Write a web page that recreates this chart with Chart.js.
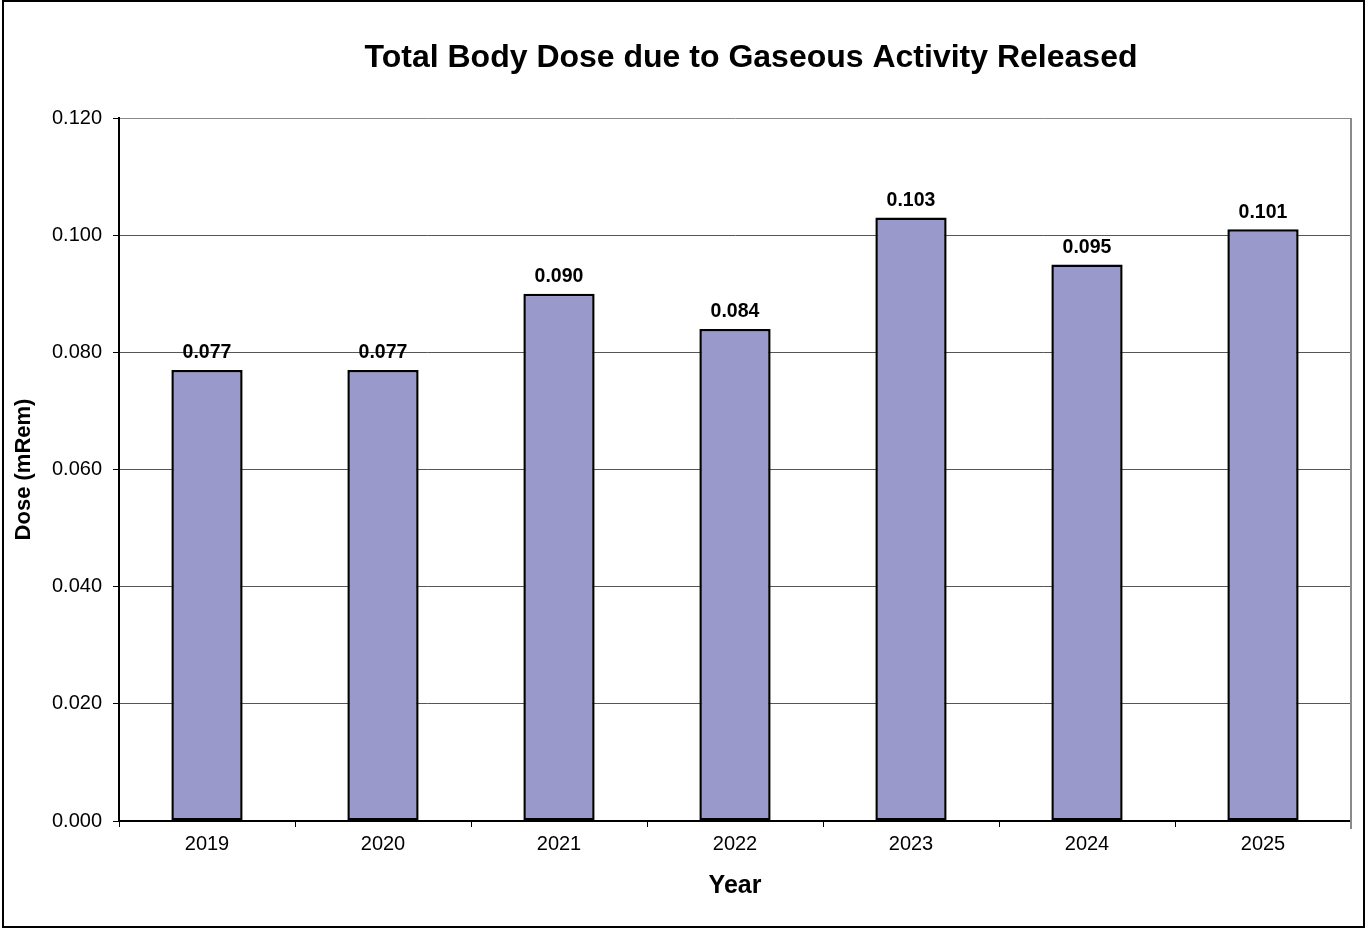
<!DOCTYPE html>
<html>
<head>
<meta charset="utf-8">
<script src="https://cdn.jsdelivr.net/npm/chart.js@4/dist/chart.umd.min.js"></script>
<style>
  html, body { margin: 0; padding: 0; background: #fff; }
  #wrap { width: 1367px; height: 929px; position: relative; }
</style>
</head>
<body>
<div id="wrap"><canvas id="graficoDose"></canvas></div>
<script>
const anos = ['2019', '2020', '2021', '2022', '2023', '2024', '2025'];
const doses = [0.077, 0.077, 0.090, 0.084, 0.103, 0.095, 0.101];
const ticksDose = [0, 0.02, 0.04, 0.06, 0.08, 0.1, 0.12];

const FONTE = '"Liberation Sans", Arial, sans-serif';

// titulo, moldura externa, borda direita da area e rotulos das barras
const extras = {
  id: 'extras',
  afterDraw(chart) {
    const { ctx, chartArea } = chart;
    ctx.save();

    ctx.strokeStyle = '#000';
    ctx.lineWidth = 2;
    ctx.strokeRect(3, 1, 1361, 926);

    ctx.strokeStyle = '#8a8a8a';
    ctx.lineWidth = 2;
    ctx.beginPath();
    ctx.moveTo(chartArea.right, chartArea.top);
    ctx.lineTo(chartArea.right, chartArea.bottom + 8);
    ctx.stroke();

    ctx.fillStyle = '#000';
    ctx.textAlign = 'center';
    ctx.textBaseline = 'middle';
    ctx.font = 'bold 32px ' + FONTE;
    ctx.fillText('Total Body Dose due to Gaseous Activity Released', (chartArea.left + chartArea.right) / 2 + 16, 58);

    ctx.font = 'bold 19.5px ' + FONTE;
    chart.getDatasetMeta(0).data.forEach((bar, i) => {
      ctx.fillText(doses[i].toFixed(3), bar.x, bar.y - 17);
    });
    ctx.restore();
  }
};

const ctx = document.getElementById('graficoDose').getContext('2d');
new Chart(ctx, {
  type: 'bar',
  data: {
    labels: anos,
    datasets: [{
      data: doses,
      backgroundColor: '#9999cc',
      borderColor: '#000',
      borderWidth: 2.5,
      borderSkipped: false,
      barPercentage: 0.405,
      categoryPercentage: 1
    }]
  },
  options: {
    responsive: true,
    maintainAspectRatio: false,
    animation: false,
    layout: { padding: { left: 0, top: 118, right: 16, bottom: 0 } },
    plugins: {
      legend: { display: false },
      tooltip: { enabled: false }
    },
    scales: {
      x: {
        grid: { drawOnChartArea: false, tickLength: 6, tickColor: '#000', lineWidth: 1 },
        border: { color: '#000', width: 2 },
        ticks: { color: '#000', font: { family: FONTE, size: 20 }, padding: 5 },
        title: {
          display: true, text: 'Year', color: '#000',
          font: { family: FONTE, size: 25, weight: 'bold' },
          padding: { top: 0, bottom: 28 }
        },
        afterFit(scale) {
          scale.height = 108;
          scale.paddingLeft = 0;
          scale.paddingRight = 0;
        }
      },
      y: {
        min: 0,
        max: 0.12,
        afterBuildTicks(scale) {
          scale.ticks = ticksDose.map(v => ({ value: v }));
        },
        grid: {
          color: c => (c.index === ticksDose.length - 1 ? '#8a8a8a' : '#555'),
          lineWidth: 1,
          tickLength: 6,
          tickColor: '#000'
        },
        border: { color: '#000', width: 2 },
        ticks: {
          color: '#000',
          font: { family: FONTE, size: 20 },
          padding: 11,
          callback: v => Number(v).toFixed(3)
        },
        title: {
          display: true, text: 'Dose (mRem)', color: '#000',
          font: { family: FONTE, size: 22, weight: 'bold' },
          padding: { top: 11, bottom: 0 }
        },
        afterFit(scale) {
          scale.width = 119;
          scale.paddingTop = 0;
          scale.paddingBottom = 0;
        }
      }
    }
  },
  plugins: [extras]
});
</script>
</body>
</html>
